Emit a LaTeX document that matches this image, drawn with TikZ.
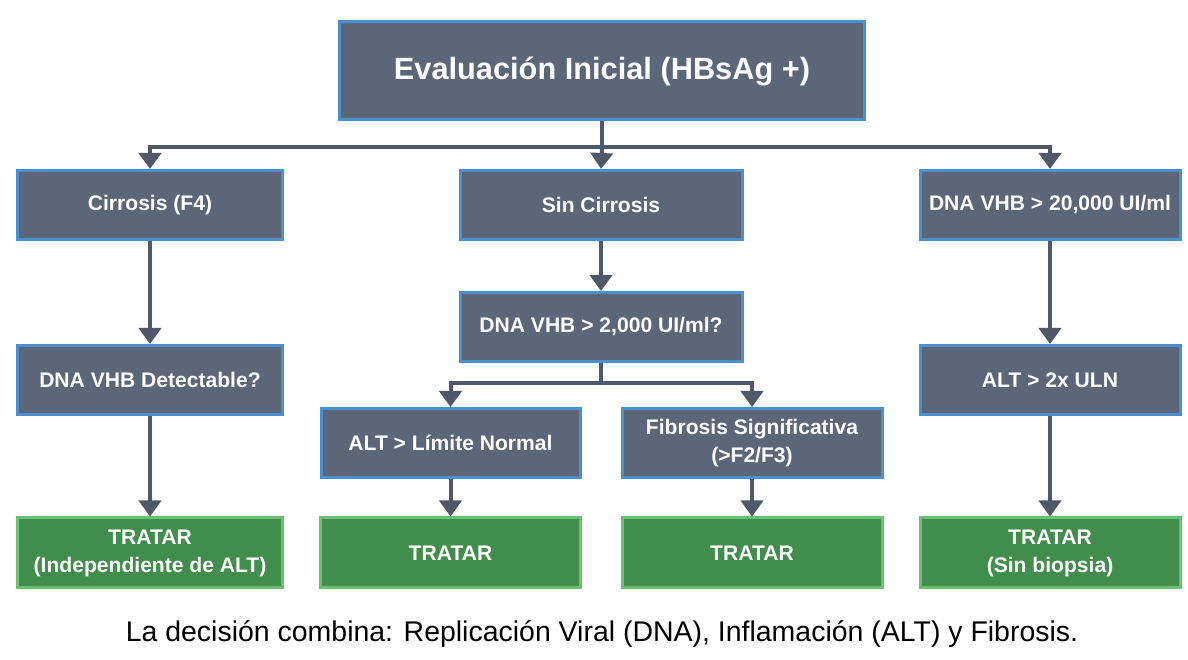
\documentclass[tikz,border=0pt]{standalone}
\usepackage{fontspec}
\setmainfont{Liberation Sans}
\usetikzlibrary{arrows.meta}

\definecolor{boxfill}{HTML}{5B6679}
\definecolor{boxline}{HTML}{4B8FCF}
\definecolor{okfill}{HTML}{418E4C}
\definecolor{okline}{HTML}{6DBF72}
\definecolor{wire}{HTML}{4F5869}

\begin{document}
\begin{tikzpicture}[
        stepbox/.style={draw=boxline, fill=boxfill, line width=0.06cm, text=white,
            font=\fontsize{12}{16}\selectfont\bfseries, align=center,
            minimum height=1.38cm, inner sep=2pt},
        treatbox/.style={draw=okline, fill=okfill, line width=0.06cm, text=white,
            font=\fontsize{12}{16}\selectfont\bfseries, align=center,
            minimum height=1.40cm, minimum width=5.2cm, inner sep=2pt},
        flow/.style={draw=wire, line width=0.08cm, -{Triangle[width=0.44cm,length=0.32cm]}},
        wireonly/.style={draw=wire, line width=0.08cm}
    ]
        \useasboundingbox[fill=white] (0, 0) rectangle (23.76, 13.2);

        \node[stepbox, minimum width=10.5cm, minimum height=1.96cm,
            font=\fontsize{17.5}{20}\selectfont\bfseries] (inicio) at (12.04, 11.78) {Evaluación Inicial (HBsAg +)};

        \node[stepbox, minimum width=5.3cm]  (cirrosis) at (3.00, 9.10) {Cirrosis (F4)};
        \node[stepbox, minimum width=5.64cm] (sincirr)  at (12.02, 9.10) {Sin Cirrosis};
        \node[stepbox, minimum width=5.2cm]  (dnaalto)  at (21.00, 9.10) {DNA VHB > 20,000 UI/ml};

        \node[stepbox, minimum width=5.64cm] (dnamedio) at (12.02, 6.66) {DNA VHB > 2,000 UI/ml?};
        \node[stepbox, minimum width=5.3cm]  (detect)   at (3.00, 5.60) {DNA VHB Detectable?};
        \node[stepbox, minimum width=5.2cm]  (altdos)   at (21.00, 5.60) {ALT > 2x ULN};

        \node[stepbox, minimum width=5.18cm] (altnorm)  at (9.01, 4.34) {ALT > Límite Normal};
        \node[stepbox, minimum width=5.2cm]  (fibrosis) at (15.04, 4.34) {Fibrosis Significativa\\(>F2/F3)};

        \node[treatbox, minimum width=5.3cm] (tratA) at (3.00, 2.14) {TRATAR\\(Independiente de ALT)};
        \node[treatbox] (tratB) at (9.01, 2.14) {TRATAR};
        \node[treatbox] (tratC) at (15.04, 2.14) {TRATAR};
        \node[treatbox] (tratD) at (21.00, 2.14) {TRATAR\\(Sin biopsia)};

        \node[font=\fontsize{16.2}{19}\selectfont] (nota) at (12.04, 0.52)
            {La decisión combina: Replicación Viral (DNA), Inflamación (ALT) y Fibrosis.};

        % ramas superiores
        \coordinate (split) at (12.04, 10.26);
        \draw[wireonly] (inicio.south) -- (split);
        \draw[flow] (split) -- (sincirr.north);
        \draw[flow] (split) -| (cirrosis.north);
        \draw[flow] (split) -| (dnaalto.north);

        % columna izquierda
        \draw[flow] (cirrosis) -- (detect);
        \draw[flow] (detect) -- (tratA);

        % centro
        \draw[flow] (sincirr) -- (dnamedio);
        \coordinate (split2) at (12.02, 5.54);
        \draw[wireonly] (dnamedio.south) -- (split2);
        \draw[flow] (split2) -| (altnorm.north);
        \draw[flow] (split2) -| (fibrosis.north);
        \draw[flow] (altnorm) -- (tratB);
        \draw[flow] (fibrosis) -- (tratC);

        % columna derecha
        \draw[flow] (dnaalto) -- (altdos);
        \draw[flow] (altdos) -- (tratD);
    \end{tikzpicture}
\end{document}
